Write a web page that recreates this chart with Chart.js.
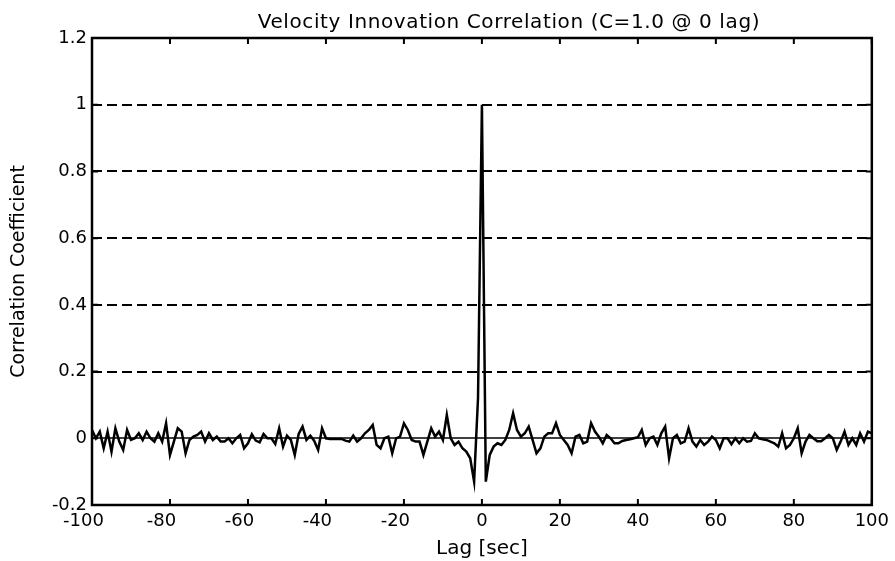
<!DOCTYPE html>
<html>
<head>
<meta charset="utf-8">
<script src="https://cdn.jsdelivr.net/npm/chart.js@4/dist/chart.umd.min.js"></script>
<style>
  html, body { margin:0; padding:0; background:#fff; }
  canvas { display:block; }
</style>
</head>
<body>
<canvas id="corr" width="895" height="561"></canvas>
<script>

const titleText  = 'Velocity Innovation Correlation (C=1.0 @ 0 lag)'
const xLabel     = 'Lag [sec]'
const yLabel     = 'Correlation Coefficient'

const lagFirst   = -100
const lagLast    = 100

const xTicks     = [-100, -80, -60, -40, -20, 0, 20, 40, 60, 80, 100]
const yTicks     = [-0.2, 0, 0.2, 0.4, 0.6, 0.8, 1.0, 1.2]
const dashedAt   = [0.2, 0.4, 0.6, 0.8, 1.0]

// correlation, one value per second of lag, -100 .. 100
const corrNeg = [
   0.025, 0.0, 0.02, -0.03, 0.02, -0.04, 0.03, -0.01, -0.035, 0.025,      // -100..-91
  -0.005, 0.0, 0.015, -0.005, 0.02, 0.0, -0.01, 0.015, -0.01, 0.045,      // -90..-81
  -0.05, -0.01, 0.03, 0.02, -0.045, -0.005, 0.005, 0.01, 0.02, -0.01,     // -80..-71
   0.015, -0.005, 0.005, -0.01, -0.01, 0.0, -0.015, 0.0, 0.01, -0.03,     // -70..-61
  -0.015, 0.012, -0.007, -0.012, 0.013, 0.0, 0.0, -0.017, 0.03, -0.025,   // -60..-51
   0.008, -0.005, -0.05, 0.013, 0.035, -0.005, 0.008, -0.008, -0.035, 0.03, // -50..-41
   0.0, -0.002, -0.002, -0.002, -0.002, -0.007, -0.01, 0.008, -0.01, 0.0, // -40..-31
   0.015, 0.025, 0.04, -0.02, -0.03, 0.0, 0.005, -0.045, 0.0, 0.005,      // -30..-21
   0.045, 0.025, -0.005, -0.01, -0.01, -0.05, -0.01, 0.03, 0.005, 0.02,   // -20..-11
  -0.005, 0.07, 0.0, -0.02, -0.01, -0.03, -0.04, -0.06, -0.13, 0.12       // -10..-1
]
const corrPos = [
   1.0, -0.13, -0.05, -0.025, -0.015, -0.02, -0.005, 0.025, 0.075, 0.025,  // 0..9
   0.005, 0.015, 0.035, -0.005, -0.045, -0.03, 0.005, 0.015, 0.015, 0.045, // 10..19
   0.01, -0.005, -0.02, -0.045, 0.005, 0.01, -0.015, -0.01, 0.045, 0.02,   // 20..29
   0.005, -0.015, 0.01, 0.0, -0.015, -0.015, -0.008, -0.005, -0.003, 0.0,  // 30..39
   0.003, 0.025, -0.02, 0.0, 0.005, -0.02, 0.015, 0.035, -0.06, 0.0,       // 40..49
   0.01, -0.015, -0.01, 0.03, -0.01, -0.025, -0.005, -0.02, -0.01, 0.005,  // 50..59
  -0.005, -0.03, 0.0, 0.0, -0.018, 0.0, -0.015, 0.0, -0.01, -0.008,        // 60..69
   0.015, 0.0, -0.003, -0.005, -0.01, -0.015, -0.025, 0.015, -0.03, -0.02, // 70..79
   0.0, 0.03, -0.045, -0.01, 0.01, 0.0, -0.009, -0.009, 0.0, 0.01,         // 80..89
   0.0, -0.035, -0.01, 0.02, -0.02, 0.0, -0.02, 0.015, -0.01, 0.02,        // 90..99
   0.015                                                                   // 100
]


const corr = corrNeg.concat(corrPos)

const lags = []
for(let l = lagFirst; l <= lagLast; l++){ lags.push(l) }


function getPoints(){
      return lags.map((l, i)=>({ x:l, y:corr[i] }))
}


// matlab style frame: box, inner ticks, dashed y grid, solid zero line, title
const framePlugin = {
      id: 'frame',

      beforeDatasetsDraw(chart){
            const { ctx, chartArea:a, scales } = chart
            const y = scales.y

            ctx.save()
            ctx.strokeStyle = '#000'
            ctx.lineWidth = 2
            ctx.setLineDash([10, 5])
            dashedAt.forEach(v=>{
                  const py = Math.round(y.getPixelForValue(v))
                  ctx.beginPath(); ctx.moveTo(a.left, py); ctx.lineTo(a.right, py); ctx.stroke()
            })
            ctx.setLineDash([])
            ctx.lineWidth = 1.5
            const p0 = Math.round(y.getPixelForValue(0))
            ctx.beginPath(); ctx.moveTo(a.left, p0); ctx.lineTo(a.right, p0); ctx.stroke()
            ctx.restore()
      },

      afterDatasetsDraw(chart){
            const { ctx, chartArea:a, scales } = chart
            const tl = 6

            ctx.save()
            ctx.strokeStyle = '#000'
            ctx.lineWidth = 2.5
            ctx.strokeRect(a.left, a.top, a.right - a.left, a.bottom - a.top)

            ctx.lineWidth = 2
            xTicks.forEach(v=>{
                  const px = scales.x.getPixelForValue(v)
                  ctx.beginPath()
                  ctx.moveTo(px, a.bottom); ctx.lineTo(px, a.bottom - tl)
                  ctx.moveTo(px, a.top);    ctx.lineTo(px, a.top + tl)
                  ctx.stroke()
            })
            yTicks.forEach(v=>{
                  const py = scales.y.getPixelForValue(v)
                  ctx.beginPath()
                  ctx.moveTo(a.left, py);  ctx.lineTo(a.left + tl, py)
                  ctx.moveTo(a.right, py); ctx.lineTo(a.right - tl, py)
                  ctx.stroke()
            })

            ctx.fillStyle = '#000'
            ctx.font = '20px "DejaVu Sans"'
            ctx.letterSpacing = '0.6px'
            ctx.textAlign = 'center'
            ctx.textBaseline = 'alphabetic'
            ctx.fillText(titleText, (a.left + a.right) / 2 + 27, 28)
            ctx.restore()
      }
}


function createChart(){

      const setup = {
            type: 'line',
            data: {
                  datasets: [{
                        data: getPoints(),
                        borderColor: '#000',
                        borderWidth: 2.5,
                        pointRadius: 0,
                        tension: 0,
                        fill: false,
                  }]
            },
            options: {
                  responsive: false,
                  animation: false,
                  events: [],
                  layout: { padding: { top: 38, right: 18, left: 0, bottom: 0 } },
                  plugins: {
                        legend: { display:false },
                        title:  { display:false },
                        tooltip:{ enabled:false },
                  },
                  scales: {
                        x: {
                              type: 'linear',
                              min: lagFirst,
                              max: lagLast,
                              afterFit: (s)=>{ s.height = 56 },
                              afterBuildTicks: (s)=>{ s.ticks = xTicks.map(v=>({ value:v })) },
                              grid: { display:false, drawTicks:false },
                              border: { display:false },
                              ticks: {
                                    color: '#000',
                                    padding: 6,
                                    maxRotation: 0,
                                    autoSkip: false,
                                    font: { family:'DejaVu Sans', size:18 },
                                    // minus sign hangs left of the number like in the original
                                    callback: (v)=> v < 0 ? v + '   ' : '' + v,
                              },
                              title: {
                                    display: true,
                                    text: xLabel,
                                    color: '#000',
                                    font: { family:'DejaVu Sans', size:20, lineHeight:1 },
                                    padding: { top:0, bottom:2 },
                              }
                        },
                        y: {
                              type: 'linear',
                              min: -0.2,
                              max: 1.2,
                              afterFit: (s)=>{ s.width = 92 },
                              afterBuildTicks: (s)=>{ s.ticks = yTicks.map(v=>({ value:v })) },
                              grid: { display:false, drawTicks:false },
                              border: { display:false },
                              ticks: {
                                    color: '#000',
                                    padding: 5,
                                    font: { family:'DejaVu Sans', size:18 },
                                    callback: (v)=> '' + Number(v.toFixed(1)),
                              },
                              title: {
                                    display: true,
                                    text: yLabel,
                                    color: '#000',
                                    font: { family:'DejaVu Sans', size:19, lineHeight:1 },
                                    padding: { top:10, bottom:0 },
                              }
                        }
                  }
            },
            plugins: [framePlugin]
      }

      return new Chart(document.getElementById('corr'), setup)
}

createChart()

</script>
</body>
</html>
